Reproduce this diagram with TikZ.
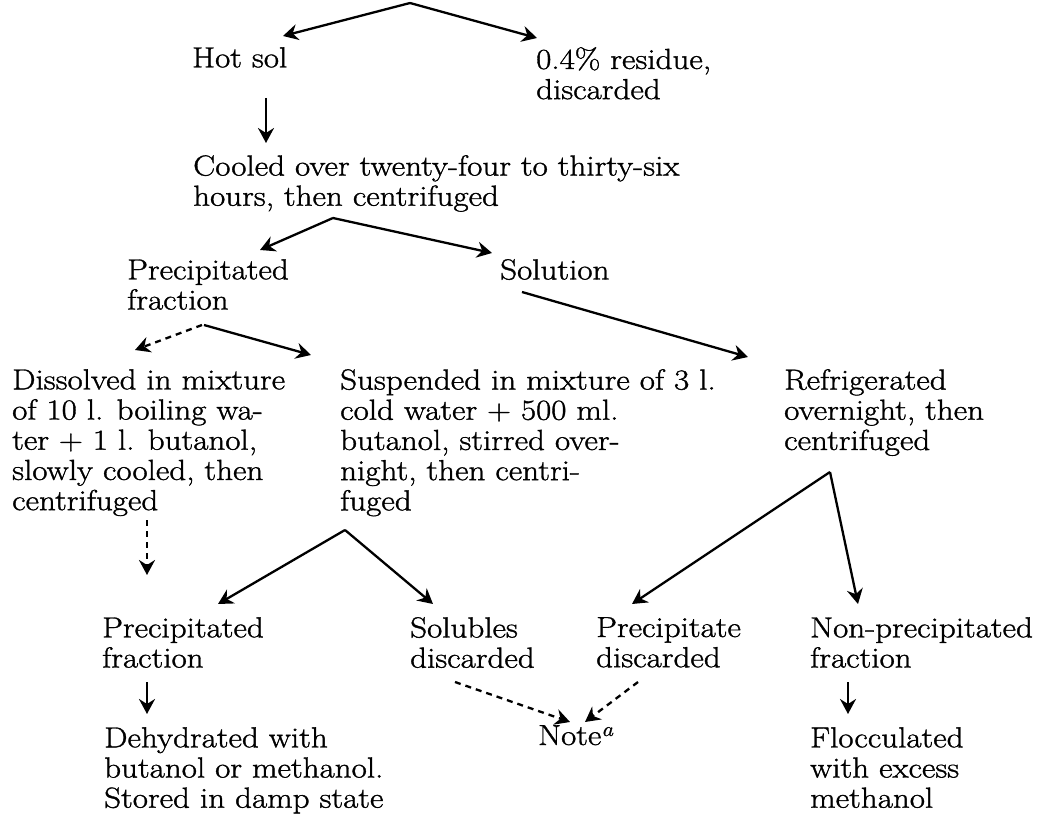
\documentclass[tikz,border=0pt]{standalone}
\usepackage{fontspec}
\setmainfont{Latin Modern Roman}[FakeStretch=1.14,UprightFeatures={FakeBold=1.2},ItalicFeatures={FakeBold=1.2}]
\usetikzlibrary{arrows.meta,calc}
\tikzset{
  txt/.style={font=\fontsize{29}{30.2}\selectfont, align=left, inner sep=0pt, anchor=north west},
  arr/.style={line width=2.3pt, -{Stealth[length=15pt,width=16pt,inset=5pt]}},
  darr/.style={arr, dash pattern=on 6pt off 5pt},
}
\begin{document}
\begin{tikzpicture}[x=1pt,y=-1pt]
\useasboundingbox (0,0) rectangle (1037,818);
\coordinate (top) at (410,3);
\node[txt] (hot) at (192,47) {Hot sol};
\node[txt] (res) at (536,47) {0.4\% residue,\\discarded};
\node[txt] (cool) at (193,155) {Cooled over twenty-four to thirty-six\\hours, then centrifuged};
\node[txt] (prec) at (127,259) {Precipitated\\fraction};
\node[txt] (sol) at (500,259) {Solution};
\node[txt] (diss) at (12,369) {Dissolved in mixture\\of 10 l. boiling wa-\\ter + 1 l. butanol,\\slowly cooled, then\\centrifuged};
\node[txt] (susp) at (340,369) {Suspended in mixture of 3 l.\\cold water + 500 ml.\\butanol, stirred over-\\night, then centri-\\fuged};
\node[txt] (refr) at (784,369) {Refrigerated\\overnight, then\\centrifuged};
\node[txt] (prec2) at (102,617) {Precipitated\\fraction};
\node[txt] (solub) at (410,617) {Solubles\\discarded};
\node[txt] (precd) at (596,617) {Precipitate\\discarded};
\node[txt] (nonp) at (810,617) {Non-precipitated\\fraction};
\node[txt] (dehy) at (104,727) {Dehydrated with\\butanol or methanol.\\Stored in damp state};
\node[txt] (note) at (538,725) {Note\textsuperscript{\itshape a}};
\node[txt] (flocc) at (810,727) {Flocculated\\with excess\\methanol};

\draw[arr] (top) -- ($(hot.north west)+(91,-11)$);
\draw[arr] (top) -- ($(res.north west)+(1,-9)$);
\draw[arr] ($(hot.north west)+(74,51)$) -- ($(cool.north west)+(73,-12)$);
\draw[arr] ($(cool.north west)+(140,63)$) -- ($(prec.north west)+(133,-9)$);
\draw[arr] ($(cool.north west)+(140,63)$) -- ($(sol.north west)+(-8,-6)$);
\draw[arr] ($(sol.north west)+(22,33)$) -- ($(refr.north west)+(-36,-12)$);
\draw[darr] ($(prec.north west)+(75,66)$) -- ($(diss.north west)+(123,-19)$);
\draw[arr] ($(prec.north west)+(77,66)$) -- ($(susp.north west)+(-29,-14)$);
\draw[darr] ($(diss.north west)+(135,151)$) -- ($(prec2.north west)+(45,-42)$);
\draw[arr] ($(susp.north west)+(5,161)$) -- ($(prec2.north west)+(116,-13)$);
\draw[arr] ($(susp.north west)+(5,161)$) -- ($(solub.north west)+(23,-13)$);
\draw[arr] ($(refr.north west)+(46,103)$) -- ($(precd.north west)+(36,-13)$);
\draw[arr] ($(refr.north west)+(46,103)$) -- ($(nonp.north west)+(48,-13)$);
\draw[arr] ($(prec2.north west)+(45,65)$) -- ($(dehy.north west)+(43,-13)$);
\draw[arr] ($(nonp.north west)+(38,65)$) -- ($(flocc.north west)+(38,-13)$);
\draw[darr] ($(solub.north west)+(45,65)$) -- ($(note.north west)+(32,-3)$);
\draw[darr] ($(precd.north west)+(42,65)$) -- ($(note.north west)+(47,-3)$);
\end{tikzpicture}
\end{document}
